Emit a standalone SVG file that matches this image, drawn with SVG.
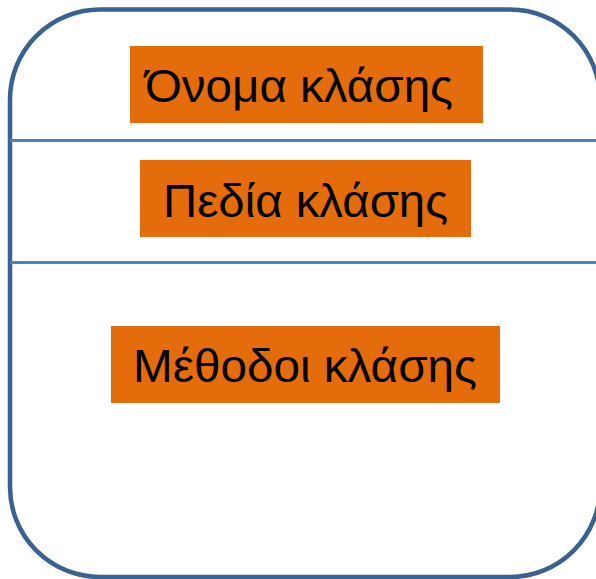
<svg xmlns="http://www.w3.org/2000/svg" width="596" height="579" viewBox="0 0 596 579">
<style>
.lbl{fill:#e46c0a}
.txt{font-family:"Liberation Sans",Arial,sans-serif;font-size:46px;fill:#000}
.div{stroke:#4f81bd;stroke-width:3;fill:none}
</style>
<rect width="596" height="579" fill="#fff"/>
<g id="class-box">
<rect x="10" y="9.5" width="590" height="567.5" rx="90" ry="90" fill="#fff" stroke="#3a6191" stroke-width="4.5"/>
</g>
<g id="connectors">
<line class="div" x1="10" y1="140.5" x2="600" y2="140.5"/>
<line class="div" x1="10" y1="262.5" x2="600" y2="262.5"/>
</g>
<g id="name">
<rect class="lbl" x="130" y="46" width="353" height="77"/>
<text class="txt" x="145" y="102" textLength="308" lengthAdjust="spacingAndGlyphs">Όνομα κλάσης</text>
</g>
<g id="fields">
<rect class="lbl" x="140" y="160" width="331" height="77"/>
<text class="txt" x="163" y="217" textLength="285" lengthAdjust="spacingAndGlyphs">Πεδία κλάσης</text>
</g>
<g id="methods">
<rect class="lbl" x="111" y="326" width="389" height="77"/>
<text class="txt" x="133" y="382" textLength="344" lengthAdjust="spacingAndGlyphs">Μέθοδοι κλάσης</text>
</g>
</svg>
